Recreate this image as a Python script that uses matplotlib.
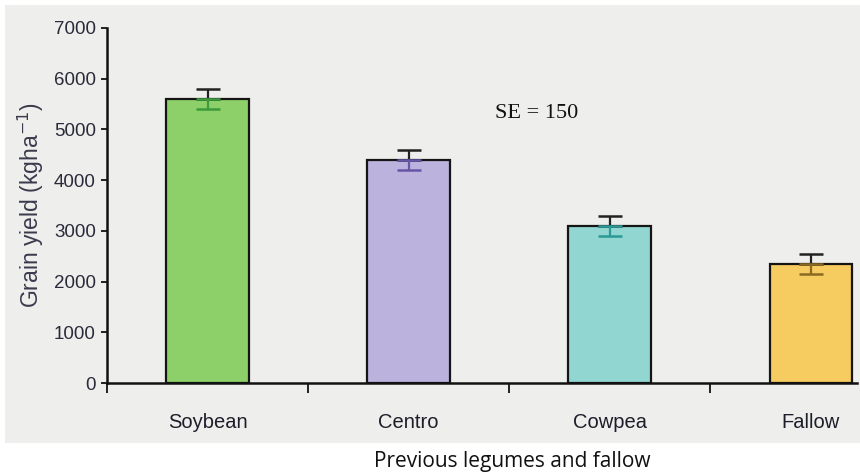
import matplotlib
matplotlib.use("Agg")
import matplotlib.pyplot as plt
from matplotlib.patches import Rectangle

# Data
categories = ["Soybean", "Centro", "Cowpea", "Fallow"]
grain_yield = [5600, 4400, 3100, 2350]
yield_err = [200, 200, 200, 200]
yticks = [0, 1000, 2000, 3000, 4000, 5000, 6000, 7000]

fill_colors = ["#8dcf69", "#bcb2de", "#92d6d1", "#f6cc60"]
low_err_colors = ["#3c9a3a", "#6656a6", "#2a9a97", "#8a6a22"]

W, H = 860, 474
fig = plt.figure(figsize=(W / 100, H / 100), dpi=100)
fig.patch.set_facecolor("white")

# paper tone behind the plot
fig.patches.append(Rectangle((5 / W, 1 - 443 / H), 855 / W, 438 / H,
                             transform=fig.transFigure, facecolor="#eeeeec",
                             edgecolor="none", zorder=-10))

ax = fig.add_axes([107 / W, 1 - 383 / H, (857 - 107) / W, (383 - 28) / H])
ax.set_facecolor("none")

x = list(range(len(categories)))
ax.bar(x, grain_yield, width=0.41, color=fill_colors, edgecolor="#151515",
       linewidth=1.6, zorder=2)

for xi, v, e, c in zip(x, grain_yield, yield_err, low_err_colors):
    # upper half of the error bar
    ax.errorbar([xi], [v], yerr=[[0], [e]], fmt="none", ecolor="#222222",
                elinewidth=1.6, capsize=8.5, capthick=1.8, zorder=3)
    # lower half, drawn in a darker shade of the bar
    ax.errorbar([xi], [v], yerr=[[e], [0]], fmt="none", ecolor=c,
                elinewidth=1.6, capsize=8.5, capthick=1.8, zorder=3)

ax.set_xlim(-0.5, 3.23)
ax.set_ylim(0, 7000)

for s in ["top", "right"]:
    ax.spines[s].set_visible(False)
for s in ["left", "bottom"]:
    ax.spines[s].set_linewidth(1.8)
    ax.spines[s].set_color("#111111")

ax.set_yticks(yticks)
ax.set_yticklabels([str(t) for t in yticks], fontsize=13.5,
                   family="Liberation Sans", color="#2a2a3a")
ax.tick_params(axis="y", direction="out", length=4, width=1.2, pad=4)

ax.set_xticks([-0.5, 0.5, 1.5, 2.5])
ax.set_xticklabels([])
ax.tick_params(axis="x", direction="out", length=7, width=1.2)

# category names sit centred under each bar
for xi, name in zip(x, categories):
    ax.annotate(name, xy=(xi, 0), xycoords=("data", "axes fraction"),
                xytext=(0, -40), textcoords="offset pixels",
                ha="center", va="center", fontsize=14.5,
                family="Liberation Sans", color="#1e1e2a")

ax.set_ylabel("Grain yield (kgha$^{-1}$)", fontsize=16.5,
              family="Liberation Sans", color="#3a3a4e", labelpad=6)

ax.text(495 / W, 1 - 113 / H, "SE = 150", transform=fig.transFigure,
        ha="left", va="center", fontsize=16, family="Liberation Serif",
        color="#111111")

fig.text(512 / W, 1 - 461 / H, "Previous legumes and fallow", ha="center",
         va="center", fontsize=15, family="Open Sans", color="#111111")

fig.savefig("out.png", dpi=100)
